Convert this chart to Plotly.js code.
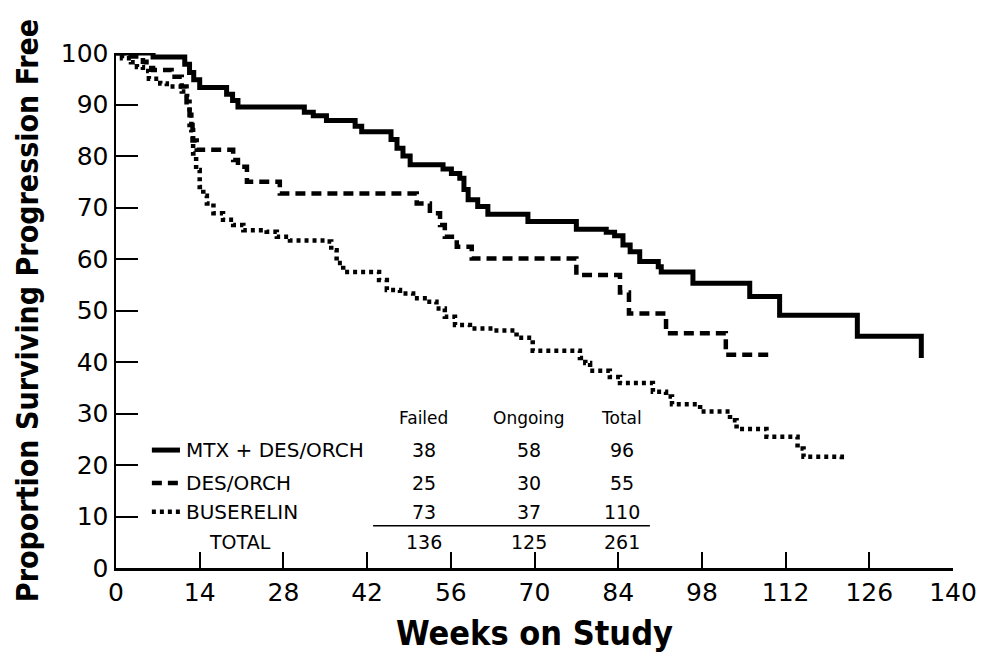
<!DOCTYPE html>
<html>
<head>
<meta charset="utf-8">
<script src="https://cdn.plot.ly/plotly-3.0.1.min.js"></script>
<style>html,body{margin:0;padding:0;background:#fff;}#chart{width:985px;height:659px;}</style>
</head>
<body>
<div id="chart"></div>
<script>
// Kaplan-Meier style curves (weeks on study, % surviving progression free)
const mtxWeeks = [0, 6.2, 11.5, 12.3, 13, 14, 18.5, 19.5, 20.4, 31.5, 33, 35.2, 40, 41.1, 46, 47, 48, 49.2, 54.7, 56.1, 57.5, 58.2, 58.9, 60.5, 62.2, 68.9, 77, 82, 83.4, 84.8, 86, 87.6, 90.7, 91.2, 96.5, 106, 111, 124, 134.7];
const mtxValues = [100, 99.2, 97.8, 96.2, 94.8, 93.3, 92, 90.8, 89.5, 88.5, 87.8, 86.9, 85.8, 84.7, 83.2, 81.5, 80, 78.3, 77.5, 76.6, 75.7, 73.5, 71.5, 70.2, 68.7, 67.3, 65.8, 65.2, 64.5, 62.7, 61.4, 59.5, 58.5, 57.5, 55.3, 52.7, 49.1, 45.0, 40.8];

const desWeeks = [0, 2, 4.5, 5.1, 6.2, 9.3, 11, 11.8, 12.3, 12.8, 13.5, 19.6, 20.4, 21.9, 27.4, 50.3, 52.5, 54.2, 55, 57, 59.5, 77, 84.3, 85.8, 92, 102, 109.6];
const desValues = [100, 99.3, 98.3, 97.1, 96.7, 95.4, 93.5, 90, 86, 83, 81.2, 79.2, 77.9, 75.0, 72.7, 70.8, 68.9, 66.6, 64.3, 62.4, 60.1, 56.9, 53.5, 49.4, 45.6, 41.4, 41.4];

const busWeeks = [0, 1, 2.5, 3.5, 4.5, 5.5, 7.4, 8.5, 11, 11.9, 12.3, 12.6, 12.9, 13.4, 14, 14.6, 15.2, 16.3, 17.9, 19.6, 21.3, 25.2, 26.9, 29.1, 35.2, 36, 36.9, 38, 44, 45.3, 47.5, 49.7, 52, 53.6, 55, 56.7, 59.2, 63, 67, 69.7, 77.6, 78.5, 79.3, 82.6, 84.3, 89.8, 92, 93, 97.7, 102.7, 103.8, 108.8, 114, 115, 121.4];
const busValues = [100, 99, 98.2, 97.3, 96.5, 95, 94.1, 93.5, 92.5, 91.5, 88, 85, 80.5, 77.3, 74, 72.3, 70.8, 68.9, 67.6, 66.6, 65.6, 65.3, 64.3, 63.6, 63.4, 61.7, 59.2, 57.5, 55.9, 54.0, 53.3, 52.4, 51.7, 50.4, 48.8, 47.2, 46.5, 46.1, 44.7, 42.2, 40.8, 39.8, 38.3, 37.1, 35.9, 34.2, 33.3, 31.8, 30.4, 28.7, 27.0, 25.5, 23.2, 21.6, 20.4];

// Table inside the chart
const groupNames = ["MTX + DES/ORCH", "DES/ORCH", "BUSERELIN"];
const tableHeaders = ["Failed", "Ongoing", "Total"];
const failedCounts = [38, 25, 73];
const ongoingCounts = [58, 30, 37];
const totalCounts = [96, 55, 110];
const totalRowLabel = "TOTAL";
const totalRow = [136, 125, 261];

const xTicks = [0, 14, 28, 42, 56, 70, 84, 98, 112, 126, 140];
const yTicks = [0, 10, 20, 30, 40, 50, 60, 70, 80, 90, 100];

// layout helpers (positions only)
const colX = [51.5, 69.0, 84.6];
const rowY = [22.9, 16.5, 10.9];
const headerY = 29.1;
const totalY = 5.0;
const dashStyles = ["solid", "10px,6px", "4px,4px"];
const widths = [5, 4.5, 4.5];

const FONT = "DejaVu Sans, sans-serif";
const TITLE_FONT = "DejaVu Sans Condensed, DejaVu Sans, sans-serif";
const traces = [
  {x: mtxWeeks, y: mtxValues, name: groupNames[0]},
  {x: desWeeks, y: desValues, name: groupNames[1]},
  {x: busWeeks, y: busValues, name: groupNames[2]}
].map((t, i) => Object.assign(t, {
  type: "scatter", mode: "lines", line: {shape: "hv", color: "#000", width: widths[i], dash: dashStyles[i]},
  cliponaxis: false, hoverinfo: "skip"
}));

const annotations = [];
tableHeaders.forEach((h, j) => annotations.push({x: colX[j], y: headerY, xref: "x", yref: "y", text: h, showarrow: false, font: {family: FONT, size: 17, color: "#000"}}));
groupNames.forEach((g, i) => {
  annotations.push({x: 11.3, y: rowY[i], xref: "x", yref: "y", text: g, xanchor: "left", showarrow: false, font: {family: FONT, size: 20, color: "#000"}});
  [failedCounts[i], ongoingCounts[i], totalCounts[i]].forEach((v, j) => annotations.push({x: colX[j], y: rowY[i], xref: "x", yref: "y", text: String(v), showarrow: false, font: {family: FONT, size: 19, color: "#000"}}));
});
annotations.push({x: 15.2, y: totalY, xref: "x", yref: "y", text: totalRowLabel, xanchor: "left", showarrow: false, font: {family: FONT, size: 19, color: "#000"}});
totalRow.forEach((v, j) => annotations.push({x: colX[j], y: totalY, xref: "x", yref: "y", text: String(v), showarrow: false, font: {family: FONT, size: 19, color: "#000"}}));

const shapes = [];
groupNames.forEach((g, i) => shapes.push({type: "line", xref: "x", yref: "y", x0: 6.0, x1: 10.7, y0: rowY[i], y1: rowY[i], line: {color: "#000", width: widths[i], dash: dashStyles[i]}}));
shapes.push({type: "line", xref: "x", yref: "y", x0: 43.0, x1: 89.3, y0: 8.2, y1: 8.2, line: {color: "#000", width: 1.5}});

const layout = {
  width: 985, height: 659,
  margin: {l: 116, r: 32, t: 53, b: 91},
  paper_bgcolor: "#fff", plot_bgcolor: "#fff",
  showlegend: false,
  xaxis: {
    range: [0, 140], tickvals: xTicks, ticktext: xTicks.map(String),
    ticks: "inside", ticklen: 16, tickwidth: 2, tickcolor: "#000",
    showline: true, linecolor: "#000", linewidth: 2.5, showgrid: false, zeroline: false,
    tickfont: {family: FONT, size: 25, color: "#000"},
    title: {text: "Weeks on Study", font: {family: TITLE_FONT, size: 34, color: "#000", weight: "bold"}, standoff: 16}
  },
  yaxis: {
    range: [0, 100], tickvals: yTicks, ticktext: yTicks.map(String),
    ticks: "inside", ticklen: 22, tickwidth: 2, tickcolor: "#000",
    showline: true, linecolor: "#000", linewidth: 2.5, showgrid: false, zeroline: false,
    tickfont: {family: FONT, size: 25, color: "#000"},
    title: {text: "Proportion Surviving Progression Free", font: {family: TITLE_FONT, size: 30, color: "#000", weight: "bold"}, standoff: 14}
  },
  annotations: annotations,
  shapes: shapes
};

Plotly.newPlot("chart", traces, layout, {displayModeBar: false, staticPlot: true});
</script>
</body>
</html>
